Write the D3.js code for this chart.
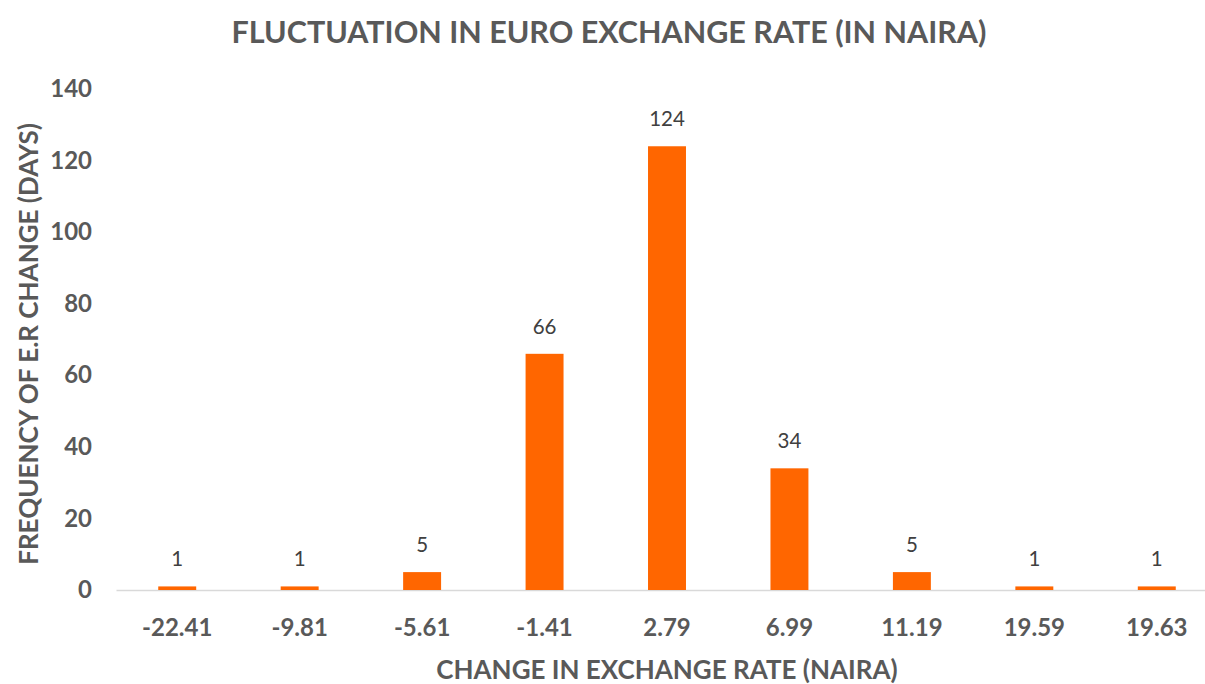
<!DOCTYPE html>
<html>
<head>
<meta charset="utf-8">
<script src="https://cdn.jsdelivr.net/npm/d3@7"></script>
<style>
  body { margin: 0; background: #fff; }
  text { font-family: Lato, "Open Sans", sans-serif; }
</style>
</head>
<body>
<div id="chart"></div>
<script>
// data
const categories = ["-22.41", "-9.81", "-5.61", "-1.41", "2.79", "6.99", "11.19", "19.59", "19.63"];
const frequency = [1, 1, 5, 66, 124, 34, 5, 1, 1];
const yTicks = [0, 20, 40, 60, 80, 100, 120, 140];

const data = categories.map((c, i) => ({ cat: c, val: frequency[i] }));

const W = 1205, H = 684;
const svg = d3.select("#chart").append("svg")
  .attr("width", W)
  .attr("height", H);

const x = d3.scaleBand()
  .domain(categories)
  .range([116, 1218])
  .paddingInner(0.69)
  .paddingOuter(0.345);

const y = d3.scaleLinear()
  .domain([0, 140])
  .range([590, 89]);

// title
svg.append("text")
  .attr("x", 609).attr("y", 43)
  .attr("text-anchor", "middle")
  .attr("fill", "#595959")
  .style("font-size", "30.5px")
  .style("font-weight", 700)
  .text("FLUCTUATION IN EURO EXCHANGE RATE (IN NAIRA)");

// y axis labels (no line)
const yAxis = svg.append("g")
  .attr("transform", "translate(92,0)")
  .call(d3.axisLeft(y).tickValues(yTicks).tickSize(0).tickPadding(0));
yAxis.select(".domain").remove();
yAxis.selectAll("text")
  .attr("fill", "#595959")
  .style("font-size", "24px")
  .style("font-weight", 700)
  .style("font-family", "Lato, sans-serif");

// x axis
const xAxis = svg.append("g")
  .attr("transform", `translate(0,${y(0)})`)
  .call(d3.axisBottom(x).tickSize(0).tickPadding(29));
xAxis.select(".domain")
  .attr("stroke", "#d9d9d9")
  .attr("stroke-width", 1.5);
xAxis.selectAll("text")
  .attr("fill", "#595959")
  .style("font-size", "24px")
  .style("font-weight", 700)
  .style("font-family", "Lato, sans-serif");

// bars
svg.selectAll("rect.bar")
  .data(data)
  .enter()
  .append("rect")
    .attr("class", "bar")
    .attr("x", d => x(d.cat))
    .attr("y", d => y(d.val))
    .attr("width", x.bandwidth())
    .attr("height", d => y(0) - y(d.val))
    .attr("fill", "#ff6600");

// data labels
svg.selectAll("text.lbl")
  .data(data)
  .enter()
  .append("text")
    .attr("class", "lbl")
    .attr("x", d => x(d.cat) + x.bandwidth() / 2)
    .attr("y", d => y(d.val) - 20)
    .attr("text-anchor", "middle")
    .attr("fill", "#404040")
    .style("font-size", "20.5px")
    .text(d => d.val);

// axis titles
svg.append("text")
  .attr("x", 667).attr("y", 679)
  .attr("text-anchor", "middle")
  .attr("fill", "#595959")
  .style("font-size", "26px")
  .style("font-weight", 700)
  .text("CHANGE IN EXCHANGE RATE (NAIRA)");

svg.append("text")
  .attr("transform", "translate(38,344) rotate(-90)")
  .attr("text-anchor", "middle")
  .attr("fill", "#595959")
  .style("font-size", "26px")
  .style("font-weight", 700)
  .text("FREQUENCY OF E.R CHANGE (DAYS)");
</script>
</body>
</html>
